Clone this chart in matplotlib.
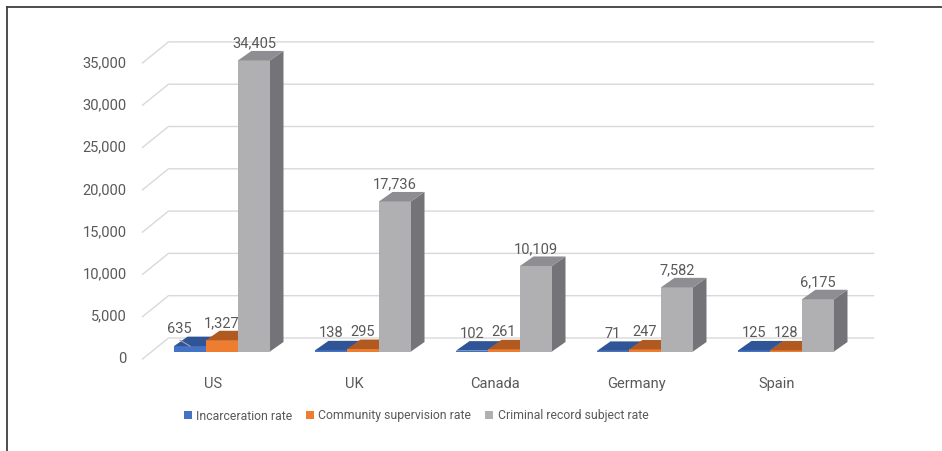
import matplotlib
matplotlib.use('Agg')
import matplotlib.pyplot as plt
from matplotlib.patches import Polygon, Patch
from matplotlib.lines import Line2D

# Daten
countries = ['US', 'UK', 'Canada', 'Germany', 'Spain']
series_names = ['Incarceration rate', 'Community supervision rate',
                'Criminal record subject rate']
incarceration = [635, 138, 102, 71, 125]
supervision = [1327, 295, 261, 247, 128]
criminal_record = [34405, 17736, 10109, 7582, 6175]
yticks = [0, 5000, 10000, 15000, 20000, 25000, 30000, 35000]

# Farben: Vorderseite, Oberseite, rechte Seite
colors = [
    ('#4472C4', '#2F5597', '#2B4F8C'),
    ('#ED7D31', '#B05A22', '#A8561F'),
    ('#B0B0B3', '#8E8E92', '#747478'),
]
text_col = '#595959'
grid_col = '#D9D9D9'

plt.rcParams['font.family'] = ['Roboto', 'DejaVu Sans']
fs = 10.5
fs_leg = 8.8

W, H = 942, 451
fig = plt.figure(figsize=(W / 100, H / 100), dpi=100)
ax = fig.add_axes([0, 0, 1, 1])

# Skalen so gewaehlt, dass Kategorie-Abstand 141 px, 5000 = 42.3 px
cat_px = 141.0
val_px = 42.3 / 5000
x0_px, y0_px = 213, 359
ax.set_xlim(-x0_px / cat_px, (W - x0_px) / cat_px)
ax.set_ylim(-(H - y0_px) / val_px, y0_px / val_px)
ax.axis('off')


def dx(px):
    return px / cat_px


def dy(px):
    return px / val_px


# Wandtiefe / Balkenversatz / Balkentiefe (in Pixeln umgerechnet)
wall_dx, wall_dy = dx(26), dy(21)
off_dx, off_dy = dx(9), dy(7.5)
bar_dx, bar_dy = dx(13.5), dy(9.5)
bw = dx(32)

# Gitterlinien (linke Seitenwand + Rueckwand)
left, right = -0.5, len(countries) - 0.5
for v in yticks:
    ax.plot([left, left + wall_dx, right + wall_dx], [v, v + wall_dy, v + wall_dy],
            color=grid_col, lw=1.0, zorder=1)
    ax.text(left - dx(16), v, f'{v:,}', ha='right', va='center',
            fontsize=fs, color=text_col)

# Balken
data = [incarceration, supervision, criminal_record]
z = 2
for i, c in enumerate(countries):
    for j, vals in enumerate(data):
        v = vals[i]
        front, top, side = colors[j]
        l = i + off_dx - 1.5 * bw + j * bw
        b = off_dy
        ax.add_patch(Polygon([(l, b), (l + bw, b), (l + bw, b + v), (l, b + v)],
                             closed=True, facecolor=front, edgecolor='none', zorder=z))
        ax.add_patch(Polygon([(l + bw, b), (l + bw + bar_dx, b + bar_dy),
                              (l + bw + bar_dx, b + v + bar_dy), (l + bw, b + v)],
                             closed=True, facecolor=side, edgecolor='none', zorder=z))
        ax.add_patch(Polygon([(l, b + v), (l + bw, b + v),
                              (l + bw + bar_dx, b + v + bar_dy), (l + bar_dx, b + v + bar_dy)],
                             closed=True, facecolor=top, edgecolor='none', zorder=z))
        z += 1
        lx = l + bw / 2
        ly = b + v + bar_dy + dy(7.5)
        if i == 0 and j == 0:
            # verschobenes Label mit Fuehrungslinie
            ax.plot([lx - dx(10), lx], [ly - dy(11), ly - dy(17)],
                    color='#A6A6A6', lw=0.8, zorder=50)
            lx -= dx(11)
        ax.text(lx, ly, f'{v:,}', ha='center', va='center', fontsize=fs,
                color=text_col, zorder=60)
    ax.text(i, -dy(25), c, ha='center', va='center', fontsize=fs, color=text_col)

# Legende
handles = [Patch(facecolor=col[0], edgecolor='none') for col in colors]
fig.legend(handles, series_names, loc='center', bbox_to_anchor=(416 / W, 1 - 416 / H),
           ncol=3, frameon=False, handlelength=0.65, handleheight=0.65,
           handletextpad=0.35, columnspacing=1.15, fontsize=fs_leg, labelcolor=text_col)

# Rahmen (oben und links)
fig.add_artist(Line2D([7 / W, 1], [1 - 6.5 / H, 1 - 6.5 / H], color='#3F3F3F',
                      lw=1.3, transform=fig.transFigure))
fig.add_artist(Line2D([7 / W, 7 / W], [0, 1 - 6.5 / H], color='#3F3F3F',
                      lw=1.3, transform=fig.transFigure))

fig.savefig('out.png', dpi=100)
